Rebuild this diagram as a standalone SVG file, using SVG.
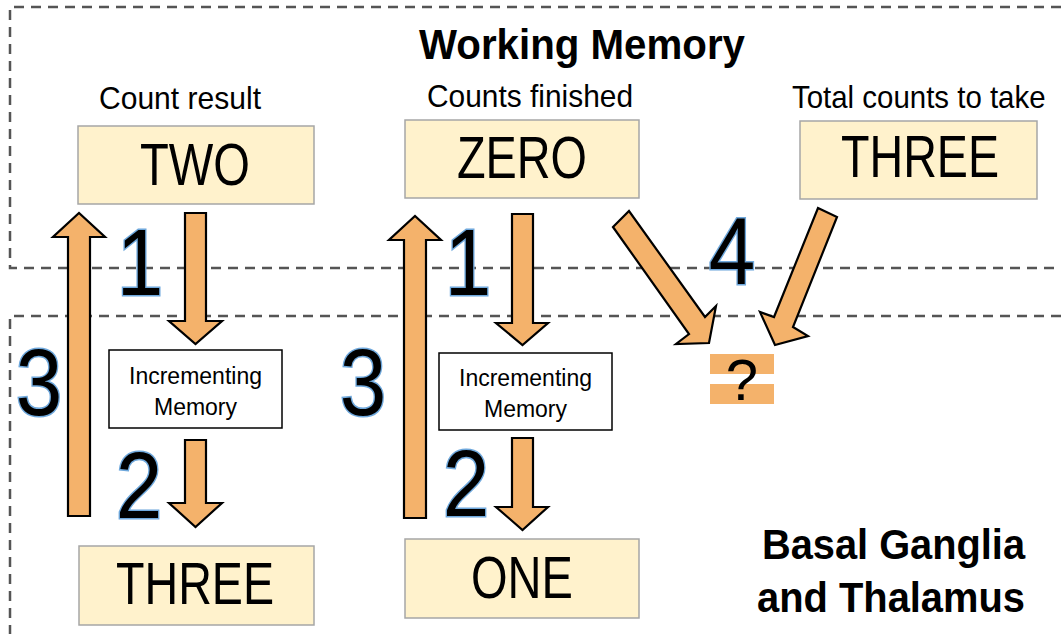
<svg xmlns="http://www.w3.org/2000/svg" width="1061" height="634" viewBox="0 0 1061 634">
  <style>
    .region { fill: none; stroke: #555555; stroke-width: 2.5; stroke-dasharray: 10 7; }
    .slot { fill: #fff2cc; stroke: #a6a6a6; stroke-width: 1.5; }
    .proc { fill: #ffffff; stroke: #000000; stroke-width: 1.5; }
    .flow { fill: #f4b26b; stroke: #000000; stroke-width: 2.2; stroke-linejoin: miter; }
    .mark { fill: #f4b26b; }
    .title { font-family: "Liberation Sans", Arial, sans-serif; font-weight: bold; fill: #000; }
    .label { font-family: "Liberation Sans", Arial, sans-serif; fill: #000; }
    .value { font-family: "Liberation Sans", Arial, sans-serif; font-size: 60px; fill: #000; text-anchor: middle; }
    .small { font-family: "Liberation Sans", Arial, sans-serif; font-size: 23px; fill: #000; text-anchor: middle; }
    .step { font-family: "Liberation Sans", Arial, sans-serif; font-size: 95px; fill: #000; stroke: #6fa8dc; stroke-width: 3; paint-order: stroke; text-anchor: middle; }
  </style>

  <!-- dashed regions -->
  <g id="regions">
    <path class="region" d="M1061,7 H10 V268 H1061"/>
    <path class="region" d="M1061,316 H10 V634"/>
    <text class="title" x="419" y="59" font-size="43" textLength="326" lengthAdjust="spacingAndGlyphs">Working Memory</text>
    <text class="title" x="762" y="559" font-size="42" textLength="263" lengthAdjust="spacingAndGlyphs">Basal Ganglia</text>
    <text class="title" x="757" y="612" font-size="42" textLength="268" lengthAdjust="spacingAndGlyphs">and Thalamus</text>
  </g>

  <!-- slot captions -->
  <g id="captions">
    <text class="label" x="99" y="109" font-size="32" textLength="162" lengthAdjust="spacingAndGlyphs">Count result</text>
    <text class="label" x="427" y="107" font-size="32" textLength="206" lengthAdjust="spacingAndGlyphs">Counts finished</text>
    <text class="label" transform="translate(792,108) scale(0.92,1)" font-size="32">Total counts to take</text>
  </g>

  <!-- working memory slots -->
  <g id="count-result">
    <rect class="slot" x="78" y="126" width="236" height="78"/>
    <text class="value" x="195" y="185" textLength="110" lengthAdjust="spacingAndGlyphs">TWO</text>
  </g>
  <g id="counts-finished">
    <rect class="slot" x="405" y="120" width="234" height="78"/>
    <text class="value" x="522" y="178" textLength="130" lengthAdjust="spacingAndGlyphs">ZERO</text>
  </g>
  <g id="total-counts">
    <rect class="slot" x="800" y="121" width="237" height="78"/>
    <text class="value" x="920" y="177" textLength="158" lengthAdjust="spacingAndGlyphs">THREE</text>
  </g>

  <!-- incrementing memories -->
  <g id="inc-result">
    <rect class="proc" x="109" y="350" width="173" height="78"/>
    <text class="small" x="195.5" y="384">Incrementing</text>
    <text class="small" x="195.5" y="415">Memory</text>
  </g>
  <g id="inc-finished">
    <rect class="proc" x="439" y="353" width="173" height="77"/>
    <text class="small" x="525.5" y="386">Incrementing</text>
    <text class="small" x="525.5" y="417">Memory</text>
  </g>

  <!-- incremented results -->
  <g id="next-result">
    <rect class="slot" x="79" y="546" width="235" height="79"/>
    <text class="value" x="195" y="604" textLength="158" lengthAdjust="spacingAndGlyphs">THREE</text>
  </g>
  <g id="next-finished">
    <rect class="slot" x="405" y="539" width="234" height="79"/>
    <text class="value" x="522" y="598" textLength="102" lengthAdjust="spacingAndGlyphs">ONE</text>
  </g>

  <!-- comparison -->
  <g id="compare">
    <rect class="mark" x="710" y="354" width="64" height="20"/>
    <rect class="mark" x="710" y="384" width="64" height="20"/>
    <text class="label" x="742" y="400" font-size="58" text-anchor="middle">?</text>
  </g>

  <!-- connectors -->
  <g id="connectors">
    <path class="flow" d="M68,516 V237 H53 L79,213 L105,237 H90 V516 Z"/>
    <path class="flow" d="M185,213 H206 V321 H222 L195.5,344 L169,321 H185 Z"/>
    <path class="flow" d="M185,440 H206 V503 H222 L195.5,527 L169,503 H185 Z"/>
    <path class="flow" d="M404,518 V240 H389 L415,216 L441,240 H426 V518 Z"/>
    <path class="flow" d="M512,214 H533 V323 H548 L522.5,345 L496,323 H512 Z"/>
    <path class="flow" d="M512,438 H533 V507 H548 L522.5,530 L496,507 H512 Z"/>
    <path class="flow" d="M613,227 L629,211 L705,317 L716,306 L709,343 L676,344 L689,334 Z"/>
    <path class="flow" d="M818,208 L837,217 L793,327 L808,336 L775,345 L760,312 L774,317 Z"/>
  </g>

  <!-- step numbers -->
  <g id="steps">
    <text class="step" transform="translate(140,295) scale(0.88,1)">1</text>
    <text class="step" transform="translate(39,415) scale(0.88,1)">3</text>
    <text class="step" transform="translate(139,518) scale(0.88,1)">2</text>
    <text class="step" transform="translate(468,295) scale(0.88,1)">1</text>
    <text class="step" transform="translate(363,415) scale(0.88,1)">3</text>
    <text class="step" transform="translate(466,516) scale(0.88,1)">2</text>
    <text class="step" transform="translate(732,284) scale(0.88,1)">4</text>
  </g>
</svg>
